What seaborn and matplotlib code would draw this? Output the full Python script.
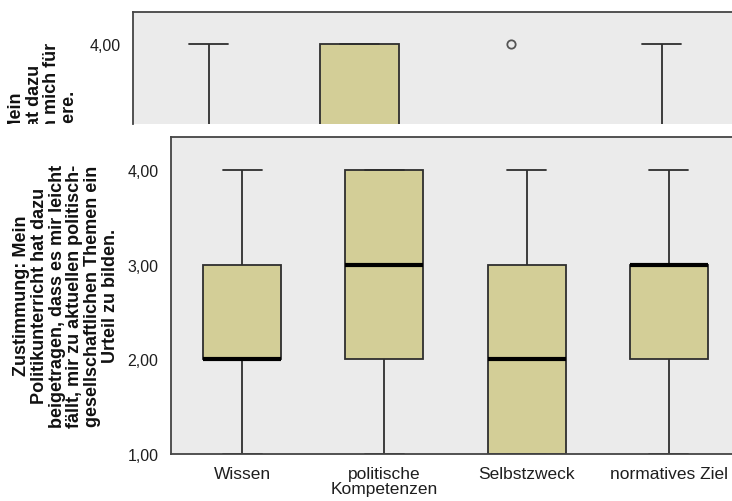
import pandas as pd
import seaborn as sns
import matplotlib
matplotlib.use("Agg")
import matplotlib.pyplot as plt
from matplotlib.ticker import FuncFormatter
from matplotlib.transforms import Bbox, TransformedBbox

# categories on the x axis
categories = ["Wissen", "politische\nKompetenzen", "Selbstzweck", "normatives Ziel"]

# answers (1-4 agreement scale) per category, upper panel (cropped chart)
top_wissen = [1, 2, 2, 2, 3, 3, 4]
top_kompetenzen = [1, 2, 2, 3, 4, 4, 4]
top_selbstzweck = [1, 2, 2, 2, 2, 3, 4]
top_normativ = [1, 2, 2, 3, 3, 3, 4]

# answers per category, lower panel
bot_wissen = [1, 2, 2, 2, 3, 3, 4]
bot_kompetenzen = [1, 2, 2, 3, 4, 4, 4]
bot_selbstzweck = [1, 1, 1, 2, 3, 3, 4]
bot_normativ = [1, 2, 2, 3, 3, 3, 4]

yticks = [1, 2, 3, 4]

top_label = ("Zustimmung: Mein\nPolitikunterricht hat dazu\n"
             "beigetragen, dass ich mich für\nPolitik interessiere.")
bot_label = ("Zustimmung: Mein\nPolitikunterricht hat dazu\n"
             "beigetragen, dass es mir leicht\nfällt, mir zu aktuellen politisch-\n"
             "gesellschaftlichen Themen ein\nUrteil zu bilden.")


def to_long(groups):
    """Build a long-form frame from the per-category lists."""
    rows = []
    for cat, vals in zip(categories, groups):
        rows += [(cat, v) for v in vals]
    return pd.DataFrame(rows, columns=["gruppe", "wert"])


top_df = to_long([top_wissen, top_kompetenzen, top_selbstzweck, top_normativ])
bot_df = to_long([bot_wissen, bot_kompetenzen, bot_selbstzweck, bot_normativ])

sns.set_style("white")
plt.rcParams["font.family"] = ["Liberation Sans", "DejaVu Sans"]

W, H = 732, 502
fig = plt.figure(figsize=(W / 100, H / 100), dpi=100)

bg = "#EBEBEB"
box_color = "#D3CE97"
line_color = "#2E2E2E"
spine_color = "#444444"

box_kw = dict(
    x="gruppe", y="wert", order=categories, color=box_color, saturation=1,
    linecolor=line_color, linewidth=1.3,
    medianprops=dict(color="black", linewidth=3),
    flierprops=dict(marker="o", markersize=6, markerfacecolor="none",
                    markeredgecolor="#555555", markeredgewidth=1.3),
)

fmt = FuncFormatter(lambda v, _: f"{v:.2f}".replace(".", ","))

# upper (cropped) panel
ax_top = fig.add_axes([133 / W, 1 - 125 / H, 604 / W, 112 / H])
sns.boxplot(data=top_df, ax=ax_top, width=0.52, **box_kw)
ax_top.set_xlim(-0.5, 3.5)
ax_top.set_ylim(3.153, 4.339)
ax_top.set_xticks([])
ax_top.set_yticks([4])

# lower panel
ax = fig.add_axes([171 / W, 1 - 455 / H, 569 / W, 317 / H])
sns.boxplot(data=bot_df, ax=ax, width=0.55, **box_kw)
ax.set_xlim(-0.5, 3.5)
ax.set_ylim(1.0, 4.349)
ax.set_yticks(yticks)

for a in (ax_top, ax):
    a.set_facecolor(bg)
    a.set_xlabel("")
    a.set_ylabel("")
    a.yaxis.set_major_formatter(fmt)
    a.tick_params(axis="both", direction="out", length=8, width=1.1,
                  color=line_color, labelsize=11.5, pad=1, labelcolor="#1E1E1E")
    for s in a.spines.values():
        s.set_color(spine_color)
        s.set_linewidth(1.3)
    a.spines["right"].set_visible(False)
ax_top.spines["bottom"].set_visible(False)
ax.tick_params(axis="x", labelsize=12.5)
for lab in ax.get_xticklabels():
    lab.set_linespacing(0.95)

# rotated axis titles
t_top = fig.text(43 / W, 1 - 173 / H, top_label, rotation=90, ha="center",
                 va="center", multialignment="center", fontsize=13,
                 fontweight="bold", linespacing=1.05, color="#111111")
t_top.set_clip_box(TransformedBbox(Bbox([[0, 1 - 125 / H], [1, 1]]), fig.transFigure))
t_top.set_clip_on(True)

fig.text(66 / W, 1 - 296 / H, bot_label, rotation=90, ha="center", va="center",
         multialignment="center", fontsize=13, fontweight="bold",
         linespacing=1.05, color="#111111")

fig.savefig("out.png", dpi=100, facecolor="white")
